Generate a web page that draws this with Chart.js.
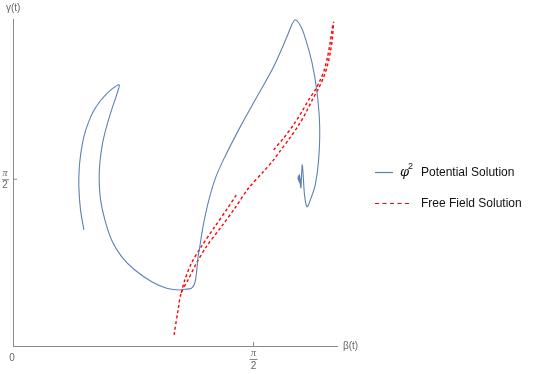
<!DOCTYPE html>
<html>
<head>
<meta charset="utf-8">
<script src="https://cdn.jsdelivr.net/npm/chart.js@4.4.1/dist/chart.umd.min.js"></script>
<style>
  html,body{margin:0;padding:0;background:#fff;}
  #wrap{width:535px;height:374px;position:relative;}
</style>
</head>
<body>
<div id="wrap"><canvas id="myChart"></canvas></div>
<script>
// phi^2 potential solution, (beta, gamma) in radians
const potBeta = [0.463,0.441,0.430,0.432,0.443,0.463,0.491,0.524,0.567,0.611,0.654,0.694,
    0.677,0.644,0.611,0.585,0.567,0.563,0.572,0.600,0.644,0.709,0.796,0.906,1.004,1.078,1.122,
    1.165,1.187,1.198,1.209,1.220,1.241,1.274,1.318,1.374,1.484,1.593,1.702,1.789,1.824,1.844,
    1.870,1.898,1.953,1.986,2.003,1.996,1.974,1.942,1.920,1.904,1.895,1.889,1.883,1.880,
    1.870,1.880,1.863,1.873,1.860,1.870,1.863,1.866];
const potGamma = [1.093,1.282,1.501,1.659,1.816,1.973,2.099,2.208,2.303,2.375,2.429,2.460,
    2.366,2.224,2.067,1.910,1.722,1.565,1.376,1.188,0.999,0.842,0.716,0.606,0.544,0.528,0.534,
    0.544,0.591,0.685,0.842,0.936,1.124,1.345,1.565,1.753,2.064,2.347,2.630,2.912,3.035,3.073,
    3.035,2.950,2.667,2.385,2.064,1.753,1.517,1.376,1.310,1.423,1.612,1.706,1.565,1.489,
    1.612,1.527,1.602,1.536,1.583,1.546,1.574,1.560];

// free field solution (main branch + the second, parallel pieces)
const freeBeta = [1.052,1.078,1.099,1.143,1.198,1.263,1.361,1.449,1.538,1.636,1.702,1.745,1.804,1.863,1.912,1.955,1.994,2.027,2.053,2.073,2.086,2.094];
const freeGamma = [0.104,0.339,0.500,0.622,0.779,0.936,1.124,1.298,1.486,1.643,1.753,1.838,1.951,2.074,2.196,2.319,2.422,2.526,2.639,2.771,2.903,3.054];
const free2aBeta = [1.099,1.122,1.165,1.230,1.318,1.394,1.459];
const free2aGamma = [0.500,0.622,0.779,0.936,1.124,1.282,1.423];
const free2bBeta = [1.702,1.767,1.832,1.887,1.931,1.974,2.007,2.033,2.053,2.069,2.082,2.089];
const free2bGamma = [1.847,1.958,2.083,2.208,2.319,2.413,2.507,2.601,2.714,2.837,2.959,3.035];

const xMax = 2.116, yMax = 3.08;
const halfPi = Math.PI/2;
const blue = '#5E81B5', red = '#FF0000', axisCol = '#8a8a8a', labCol = '#666666';

const pts = (xs,ys)=>xs.map((x,i)=>({x:x,y:ys[i]}));

const redSet = (d)=>({
    data: d, borderColor: red, borderWidth: 1.4, borderDash: [3,2.5],
    pointRadius: 0, showLine: true, tension: 0.3, fill: false
});

// axis ticks, labels and the legend
const decor = {
    id: 'decor',
    afterDraw(chart){
        const c = chart.ctx, xs = chart.scales.x, ys = chart.scales.y;
        const x0 = xs.getPixelForValue(0), y0 = ys.getPixelForValue(0);
        const xp = xs.getPixelForValue(halfPi), yp = ys.getPixelForValue(halfPi);
        c.save();
        c.strokeStyle = axisCol; c.lineWidth = 1;
        c.beginPath();
        c.moveTo(xp, y0); c.lineTo(xp, y0-4);
        c.moveTo(x0, yp); c.lineTo(x0+4, yp);
        c.stroke();

        c.fillStyle = labCol; c.textAlign = 'center'; c.textBaseline = 'middle';
        c.font = 'italic 10px "Liberation Serif"';
        c.fillText('\u03c0', 5, yp-6);
        c.fillText('\u03c0', xp, y0+7);
        c.font = '10px "Liberation Sans"';
        c.fillText('2', 5, yp+6);
        c.fillText('2', xp, y0+20);
        c.fillText('0', x0-1, y0+12);
        c.beginPath();
        c.moveTo(2, yp+0.5); c.lineTo(9, yp+0.5);
        c.moveTo(xp-4, y0+13.5); c.lineTo(xp+4, y0+13.5);
        c.stroke();

        c.textAlign = 'left';
        c.font = '10px "Liberation Sans"';
        c.fillText('\u03b3(t)', 6, 8);
        c.fillText('\u03b2(t)', xs.right+6, y0);

        // legend
        c.strokeStyle = blue; c.lineWidth = 1.2;
        c.beginPath(); c.moveTo(375, 172.5); c.lineTo(393, 172.5); c.stroke();
        c.strokeStyle = red; c.setLineDash([4,3.5]);
        c.beginPath(); c.moveTo(375, 203.5); c.lineTo(412, 203.5); c.stroke();
        c.setLineDash([]);
        c.fillStyle = '#111';
        c.font = 'italic 13px "DejaVu Serif"';
        c.fillText('\u03c6', 400, 173);
        c.font = '9px "Liberation Sans"';
        c.fillText('2', 408, 167);
        c.font = '12px "Liberation Sans"';
        c.fillText('Potential Solution', 421, 173);
        c.fillText('Free Field Solution', 421, 204);
        c.restore();
    }
};

const ctx = document.getElementById('myChart');
const chart = new Chart(ctx, {
    type: 'scatter',
    data: {
        datasets: [
            { data: pts(potBeta, potGamma), borderColor: blue, borderWidth: 1.1,
              pointRadius: 0, showLine: true, tension: 0.3, fill: false },
            redSet(pts(freeBeta, freeGamma)),
            redSet(pts(free2aBeta, free2aGamma)),
            redSet(pts(free2bBeta, free2bGamma))
        ]
    },
    options: {
        responsive: true, maintainAspectRatio: false, animation: false,
        layout: { padding: { left: 13, top: 19, right: 198, bottom: 28 } },
        plugins: { legend: { display: false }, tooltip: { enabled: false } },
        scales: {
            x: { type: 'linear', min: 0, max: xMax,
                 ticks: { display: false },
                 grid: { display: false, drawTicks: false },
                 border: { display: true, color: axisCol, width: 1 } },
            y: { type: 'linear', min: 0, max: yMax,
                 ticks: { display: false },
                 grid: { display: false, drawTicks: false },
                 border: { display: true, color: axisCol, width: 1 } }
        }
    },
    plugins: [decor]
});
</script>
</body>
</html>
